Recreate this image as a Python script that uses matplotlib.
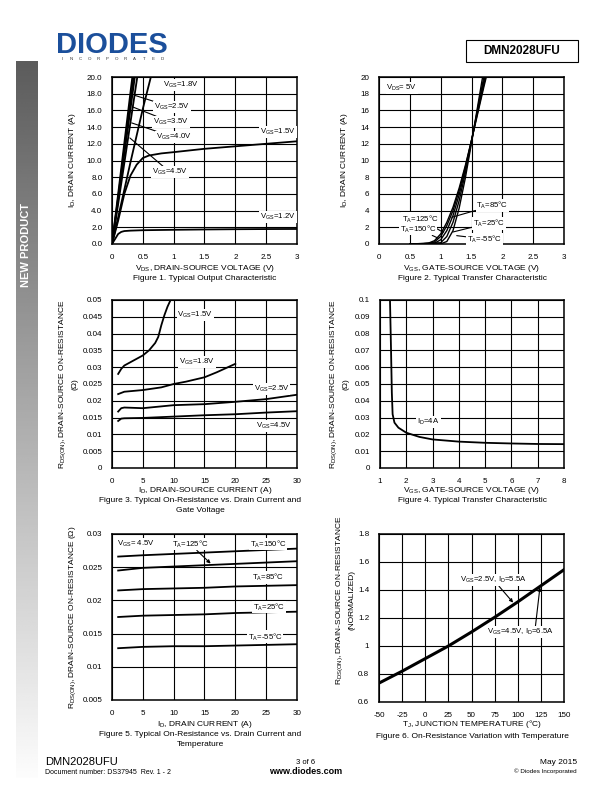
import numpy as np
import matplotlib
matplotlib.use("Agg")
import matplotlib.pyplot as plt
from matplotlib.patches import Rectangle

plt.rcParams['font.family'] = ['Liberation Sans', 'DejaVu Sans']
plt.rcParams['mathtext.fontset'] = 'custom'
plt.rcParams['mathtext.rm'] = 'Liberation Sans'
plt.rcParams['mathtext.it'] = 'Liberation Sans:italic'
plt.rcParams['mathtext.bf'] = 'Liberation Sans:bold'
plt.rcParams['mathtext.default'] = 'regular'
plt.rcParams['axes.unicode_minus'] = False

# ---------------- data ----------------
# Fig 1: output characteristic (VDS, ID)
f1_vgs12_x = [0, 0.05, 0.1, 0.15, 0.2, 0.3, 0.5, 1, 1.5, 2, 2.5, 3]
f1_vgs12_y = [0, 0.6, 1.2, 1.45, 1.55, 1.6, 1.65, 1.7, 1.74, 1.77, 1.79, 1.8]
f1_vgs15_x = [0, 0.1, 0.2, 0.3, 0.4, 0.5, 0.6, 0.8, 1, 1.5, 2, 2.5, 3]
f1_vgs15_y = [0, 2.8, 6.0, 8.2, 9.5, 10.3, 10.6, 10.85, 11.0, 11.4, 11.7, 12.0, 12.3]
f1_vgs18_x = [0, 0.1, 0.2, 0.3, 0.4, 0.5, 0.63]
f1_vgs18_y = [0, 3.2, 6.5, 9.8, 13.0, 16.2, 20]
f1_vgs25_x = [0, 0.1, 0.2, 0.3, 0.41]
f1_vgs25_y = [0, 4.8, 9.7, 14.6, 20]
f1_vgs35_x = [0, 0.1, 0.2, 0.3, 0.37]
f1_vgs35_y = [0, 5.3, 10.8, 16.2, 20]
f1_vgs40_x = [0, 0.1, 0.2, 0.3, 0.35]
f1_vgs40_y = [0, 5.6, 11.4, 17.1, 20]
f1_vgs45_x = [0, 0.1, 0.2, 0.3, 0.33]
f1_vgs45_y = [0, 6.0, 12.1, 18.2, 20]

# Fig 2: transfer characteristic (VGS, ID)
f2_t150_x = [0.5, 0.7, 0.8, 0.9, 1.0, 1.1, 1.2, 1.3, 1.4, 1.5, 1.6, 1.7, 1.74]
f2_t150_y = [0, 0.02, 0.1, 0.4, 1.2, 2.6, 4.4, 6.7, 9.4, 12.4, 15.6, 18.8, 20]
f2_t125_x = [0.5, 0.8, 0.9, 1.0, 1.1, 1.2, 1.3, 1.4, 1.5, 1.6, 1.7, 1.73]
f2_t125_y = [0, 0.05, 0.25, 0.9, 2.2, 4.0, 6.4, 9.2, 12.4, 15.8, 19.1, 20]
f2_t85_x = [0.5, 0.9, 1.0, 1.1, 1.2, 1.3, 1.4, 1.5, 1.6, 1.7, 1.72]
f2_t85_y = [0, 0.1, 0.5, 1.6, 3.4, 5.9, 8.9, 12.4, 16.0, 19.5, 20]
f2_t25_x = [0.5, 1.0, 1.1, 1.2, 1.3, 1.4, 1.5, 1.6, 1.7]
f2_t25_y = [0, 0.15, 0.9, 2.6, 5.2, 8.5, 12.3, 16.2, 20]
f2_tm55_x = [0.5, 1.0, 1.1, 1.2, 1.3, 1.4, 1.5, 1.6, 1.68]
f2_tm55_y = [0, 0.02, 0.3, 1.6, 4.3, 7.9, 12.1, 16.5, 20]

# Fig 3: RDS(on) vs ID and VGS
f3_vgs15_x = [1, 1.5, 2, 3, 4, 5, 6, 7, 7.5, 8, 8.5, 9, 9.5]
f3_vgs15_y = [0.028, 0.0295, 0.0305, 0.0315, 0.0325, 0.0335, 0.035, 0.0372, 0.039, 0.0425, 0.0455, 0.048, 0.05]
f3_vgs18_x = [1, 2, 5, 8, 10, 12, 15, 17, 20]
f3_vgs18_y = [0.022, 0.0227, 0.0232, 0.024, 0.025, 0.0257, 0.027, 0.0285, 0.031]
f3_vgs25_x = [1, 1.5, 2, 5, 10, 15, 20, 25, 30]
f3_vgs25_y = [0.0168, 0.0178, 0.018, 0.0178, 0.0187, 0.019, 0.0197, 0.0205, 0.0218]
f3_vgs45_x = [1, 1.5, 2, 5, 10, 15, 20, 25, 30]
f3_vgs45_y = [0.014, 0.0147, 0.0148, 0.0149, 0.0153, 0.0157, 0.016, 0.0165, 0.0169]

# Fig 4: RDS(on) vs VGS
f4_x = [1.38, 1.42, 1.45, 1.48, 1.55, 1.7, 2, 2.5, 3, 4, 5, 6, 7, 8]
f4_y = [0.1, 0.07, 0.045, 0.032, 0.027, 0.024, 0.021, 0.0185, 0.017, 0.0157, 0.015, 0.0146, 0.0143, 0.0142]

# Fig 5: RDS(on) vs ID and temperature
f5_x = [1, 5, 10, 15, 20, 25, 30]
f5_t150 = [0.0266, 0.0268, 0.027, 0.0272, 0.0274, 0.0276, 0.0278]
f5_t125 = [0.0245, 0.0249, 0.0251, 0.0253, 0.0255, 0.0257, 0.0259]
f5_t85 = [0.0215, 0.0217, 0.0218, 0.0219, 0.0221, 0.0222, 0.0223]
f5_t25 = [0.0175, 0.0177, 0.0178, 0.0179, 0.0181, 0.0182, 0.0183]
f5_tm55 = [0.0128, 0.013, 0.0131, 0.0131, 0.0132, 0.0133, 0.0134]

# Fig 6: normalized RDS(on) vs TJ
f6_t = [-50, -25, 0, 25, 50, 75, 100, 125, 150]
f6_r = [0.735, 0.82, 0.91, 1.0, 1.1, 1.205, 1.315, 1.43, 1.545]

# ---------------- figure ----------------
W, H = 612, 792
fig = plt.figure(figsize=(6.12, 7.92), dpi=100)

def px(x, y):
    return x / W, 1 - y / H

def T(x, y, s, **kw):
    kw.setdefault('fontsize', 6)
    kw.setdefault('ha', 'center')
    kw.setdefault('va', 'center')
    fig.text(x / W, 1 - y / H, s, **kw)

def make_ax(l, t, r, b):
    ax = fig.add_axes([l / W, 1 - b / H, (r - l) / W, (b - t) / H])
    ax.grid(True, color='black', lw=0.8)
    ax.set_axisbelow(True)
    ax.tick_params(length=0, labelsize=5.8, pad=7)
    for s in ax.spines.values():
        s.set_linewidth(1.1)
    return ax

LW = 1.3
box = dict(facecolor='white', edgecolor='none', pad=0.6)
FS = 5.6

# Fig 1
ax1 = make_ax(112, 77, 297, 244)
for xs, ys in [(f1_vgs12_x, f1_vgs12_y), (f1_vgs15_x, f1_vgs15_y), (f1_vgs18_x, f1_vgs18_y),
               (f1_vgs25_x, f1_vgs25_y), (f1_vgs35_x, f1_vgs35_y), (f1_vgs40_x, f1_vgs40_y),
               (f1_vgs45_x, f1_vgs45_y)]:
    ax1.plot(xs, ys, color='black', lw=LW)
ax1.set_xlim(0, 3); ax1.set_ylim(0, 20)
ax1.set_xticks([0, 0.5, 1, 1.5, 2, 2.5, 3]); ax1.set_xticklabels(['0', '0.5', '1', '1.5', '2', '2.5', '3'])
ax1.set_yticks(np.arange(0, 21, 2)); ax1.set_yticklabels([f'{v:.1f}' for v in np.arange(0, 21, 2)])
ax1.text(0.82, 19.0, 'V$_{GS}$=1.8V', fontsize=FS, ha='left', va='center', bbox=box)
lead = dict(arrowstyle='-', color='black', lw=0.8, shrinkA=0, shrinkB=0)
ax1.annotate('V$_{GS}$=2.5V', xy=(0.37, 17.8), xytext=(0.68, 16.4), fontsize=FS, ha='left', va='center', bbox=box, arrowprops=lead)
ax1.annotate('V$_{GS}$=3.5V', xy=(0.34, 16.4), xytext=(0.67, 14.6), fontsize=FS, ha='left', va='center', bbox=box, arrowprops=lead)
ax1.annotate('V$_{GS}$=4.0V', xy=(0.32, 14.5), xytext=(0.71, 12.8), fontsize=FS, ha='left', va='center', bbox=box, arrowprops=lead)
ax1.annotate('V$_{GS}$=4.5V', xy=(0.29, 12.7), xytext=(0.65, 8.6), fontsize=FS, ha='left', va='center', bbox=box, arrowprops=lead)
ax1.text(2.4, 13.4, 'V$_{GS}$=1.5V', fontsize=FS, ha='left', va='center', bbox=box)
ax1.text(2.4, 3.2, 'V$_{GS}$=1.2V', fontsize=FS, ha='left', va='center', bbox=box)
T(73, 160, 'I$_D$, DRAIN CURRENT (A)', rotation=90)
T(205, 268, 'V$_{DS}$, DRAIN-SOURCE VOLTAGE (V)')
T(205, 278, 'Figure 1. Typical Output Characteristic')

# Fig 2
ax2 = make_ax(379, 77, 564, 244)
for xs, ys in [(f2_t150_x, f2_t150_y), (f2_t125_x, f2_t125_y), (f2_t85_x, f2_t85_y),
               (f2_t25_x, f2_t25_y), (f2_tm55_x, f2_tm55_y)]:
    ax2.plot(xs, ys, color='black', lw=1.0)
ax2.set_xlim(0, 3); ax2.set_ylim(0, 20)
ax2.set_xticks([0, 0.5, 1, 1.5, 2, 2.5, 3]); ax2.set_xticklabels(['0', '0.5', '1', '1.5', '2', '2.5', '3'])
ax2.set_yticks(np.arange(0, 21, 2))
ax2.text(0.12, 18.7, 'V$_{DS}$= 5V', fontsize=FS, ha='left', va='center', bbox=box)
ax2.annotate('T$_A$=125°C', xy=(1.04, 1.4), xytext=(0.37, 3.0), fontsize=FS, ha='left', va='center', bbox=box, arrowprops=lead)
ax2.annotate('T$_A$=150°C', xy=(0.96, 0.7), xytext=(0.34, 1.8), fontsize=FS, ha='left', va='center', bbox=box, arrowprops=lead)
ax2.annotate('T$_A$=85°C', xy=(1.18, 3.2), xytext=(1.58, 4.6), fontsize=FS, ha='left', va='center', bbox=box, arrowprops=lead)
ax2.annotate('T$_A$=25°C', xy=(1.2, 1.44), xytext=(1.52, 2.5), fontsize=FS, ha='left', va='center', bbox=box, arrowprops=lead)
ax2.annotate('T$_A$=-55°C', xy=(1.26, 1.0), xytext=(1.43, 0.6), fontsize=FS, ha='left', va='center', bbox=box, arrowprops=lead)
T(345, 160, 'I$_D$, DRAIN CURRENT (A)', rotation=90)
T(472, 268, 'V$_{GS}$, GATE-SOURCE VOLTAGE (V)')
T(472, 278, 'Figure 2. Typical Transfer Characteristic')

# Fig 3
ax3 = make_ax(112, 300, 297, 468)
for xs, ys in [(f3_vgs15_x, f3_vgs15_y), (f3_vgs18_x, f3_vgs18_y), (f3_vgs25_x, f3_vgs25_y), (f3_vgs45_x, f3_vgs45_y)]:
    ax3.plot(xs, ys, color='black', lw=LW)
ax3.set_xlim(0, 30); ax3.set_ylim(0, 0.05)
ax3.set_xticks(np.arange(0, 31, 5))
yt3 = [0, 0.005, 0.01, 0.015, 0.02, 0.025, 0.03, 0.035, 0.04, 0.045, 0.05]
ax3.set_yticks(yt3); ax3.set_yticklabels(['0', '0.005', '0.01', '0.015', '0.02', '0.025', '0.03', '0.035', '0.04', '0.045', '0.05'])
ax3.text(10.6, 0.0455, 'V$_{GS}$=1.5V', fontsize=FS, ha='left', va='center', bbox=box)
ax3.text(10.9, 0.0316, 'V$_{GS}$=1.8V', fontsize=FS, ha='left', va='center', bbox=box)
ax3.text(23.0, 0.0235, 'V$_{GS}$=2.5V', fontsize=FS, ha='left', va='center', bbox=box)
ax3.text(23.3, 0.0125, 'V$_{GS}$=4.5V', fontsize=FS, ha='left', va='center', bbox=box)
T(63, 384, 'R$_{DS(ON)}$, DRAIN-SOURCE ON-RESISTANCE', rotation=90)
T(75, 384, '(Ω)', rotation=90)
T(205, 491, 'I$_D$, DRAIN-SOURCE CURRENT (A)')
T(200, 501, 'Figure 3. Typical On-Resistance vs. Drain Current and')
T(200, 511, 'Gate Voltage')

# Fig 4
ax4 = make_ax(380, 300, 564, 468)
ax4.plot(f4_x, f4_y, color='black', lw=LW)
ax4.set_xlim(1, 8); ax4.set_ylim(0, 0.1)
ax4.set_xticks(np.arange(1, 9, 1))
yt4 = [0, 0.01, 0.02, 0.03, 0.04, 0.05, 0.06, 0.07, 0.08, 0.09, 0.1]
ax4.set_yticks(yt4); ax4.set_yticklabels(['0', '0.01', '0.02', '0.03', '0.04', '0.05', '0.06', '0.07', '0.08', '0.09', '0.1'])
ax4.text(2.42, 0.0274, 'I$_D$=4A', fontsize=FS, ha='left', va='center', bbox=box)
T(334, 384, 'R$_{DS(ON)}$, DRAIN-SOURCE ON-RESISTANCE', rotation=90)
T(346, 384, '(Ω)', rotation=90)
T(472, 491, 'V$_{GS}$, GATE-SOURCE VOLTAGE (V)')
T(472, 501, 'Figure 4. Typical Transfer Characteristic')

# Fig 5
ax5 = make_ax(112, 534, 297, 700)
for ys in [f5_t150, f5_t125, f5_t85, f5_t25, f5_tm55]:
    ax5.plot(f5_x, ys, color='black', lw=LW)
ax5.set_xlim(0, 30); ax5.set_ylim(0.005, 0.03)
ax5.set_xticks(np.arange(0, 31, 5))
yt5 = [0.005, 0.01, 0.015, 0.02, 0.025, 0.03]
ax5.set_yticks(yt5); ax5.set_yticklabels(['0.005', '0.01', '0.015', '0.02', '0.025', '0.03'])
arr = dict(arrowstyle='-|>', color='black', lw=0.8, shrinkA=0, shrinkB=0, mutation_scale=5)
ax5.text(0.8, 0.0285, 'V$_{GS}$= 4.5V', fontsize=FS, ha='left', va='center', bbox=box)
ax5.annotate('T$_A$=125°C', xy=(16.0, 0.02555), xytext=(9.7, 0.0285), fontsize=FS, ha='left', va='center', bbox=box, arrowprops=arr)
ax5.text(22.4, 0.0285, 'T$_A$=150°C', fontsize=FS, ha='left', va='center', bbox=box)
ax5.text(22.7, 0.0235, 'T$_A$=85°C', fontsize=FS, ha='left', va='center', bbox=box)
ax5.text(22.8, 0.0190, 'T$_A$=25°C', fontsize=FS, ha='left', va='center', bbox=box)
ax5.text(22.0, 0.0145, 'T$_A$=-55°C', fontsize=FS, ha='left', va='center', bbox=box)
T(73, 617, 'R$_{DS(ON)}$, DRAIN-SOURCE ON-RESISTANCE (Ω)', rotation=90)
T(205, 724, 'I$_D$, DRAIN CURRENT (A)')
T(200, 735, 'Figure 5. Typical On-Resistance vs. Drain Current and')
T(200, 745, 'Temperature')

# Fig 6
ax6 = make_ax(379, 534, 564, 702)
ax6.plot(f6_t, f6_r, color='black', lw=2.2)
ax6.set_xlim(-50, 150); ax6.set_ylim(0.6, 1.8)
ax6.set_xticks(np.arange(-50, 151, 25))
yt6 = [0.6, 0.8, 1.0, 1.2, 1.4, 1.6, 1.8]
ax6.set_yticks(yt6); ax6.set_yticklabels(['0.6', '0.8', '1', '1.2', '1.4', '1.6', '1.8'])
ax6.annotate('V$_{GS}$=2.5V, I$_D$=5.5A', xy=(95, 1.31), xytext=(38, 1.47), fontsize=FS, ha='left', va='center', bbox=box, arrowprops=arr)
ax6.annotate('V$_{GS}$=4.5V, I$_D$=6.5A', xy=(124, 1.42), xytext=(67, 1.10), fontsize=FS, ha='left', va='center', bbox=box,
             arrowprops=dict(arrowstyle='-|>', color='black', lw=0.8, shrinkA=0, shrinkB=0, mutation_scale=5,
                             relpos=(0.72, 1.0)))
T(340, 600, 'R$_{DS(ON)}$, DRAIN-SOURCE ON-RESISTANCE', rotation=90)
T(352, 600, '(NORMALIZED)', rotation=90)
T(472, 724, 'T$_J$, JUNCTION TEMPERATURE (°C)')
T(472, 737, 'Figure 6. On-Resistance Variation with Temperature')

# ---------------- page decorations ----------------
# sidebar gradient
sb = fig.add_axes([16 / W, 1 - 778 / H, 21 / W, (778 - 61) / H])
grad = np.linspace(0.36, 0.99, 256).reshape(-1, 1)
sb.imshow(grad, aspect='auto', cmap='gray', vmin=0, vmax=1, extent=[0, 1, 1, 0])
sb.set_axis_off()
T(26.5, 245, 'NEW PRODUCT', rotation=90, color='white', fontsize=8, fontweight='bold')

# logo
T(112, 45, 'DIODES', fontsize=21, fontweight='bold', color='#1b4f9b')
for i, ch in enumerate('INCORPORATED'):
    T(62 + i * 9.1, 59.5, ch, fontsize=3.2, color='#333333')

# part number box
fig.patches.append(Rectangle(px(466, 62), 112 / W, 22 / H, transform=fig.transFigure,
                             fill=False, edgecolor='black', lw=0.8))
T(522, 51, 'DMN2028UFU', fontsize=8.5, fontweight='bold')

# footer
T(45, 762, 'DMN2028UFU', fontsize=8, ha='left')
T(45, 772, 'Document number: DS37945  Rev. 1 - 2', fontsize=5, ha='left')
T(306, 762, '3 of 6', fontsize=5.5)
T(306, 771, 'www.diodes.com', fontsize=6.5, fontweight='bold')
T(577, 762, 'May 2015', fontsize=6, ha='right')
T(577, 771, '© Diodes Incorporated', fontsize=4.5, ha='right')

fig.savefig('out.png', dpi=100)
